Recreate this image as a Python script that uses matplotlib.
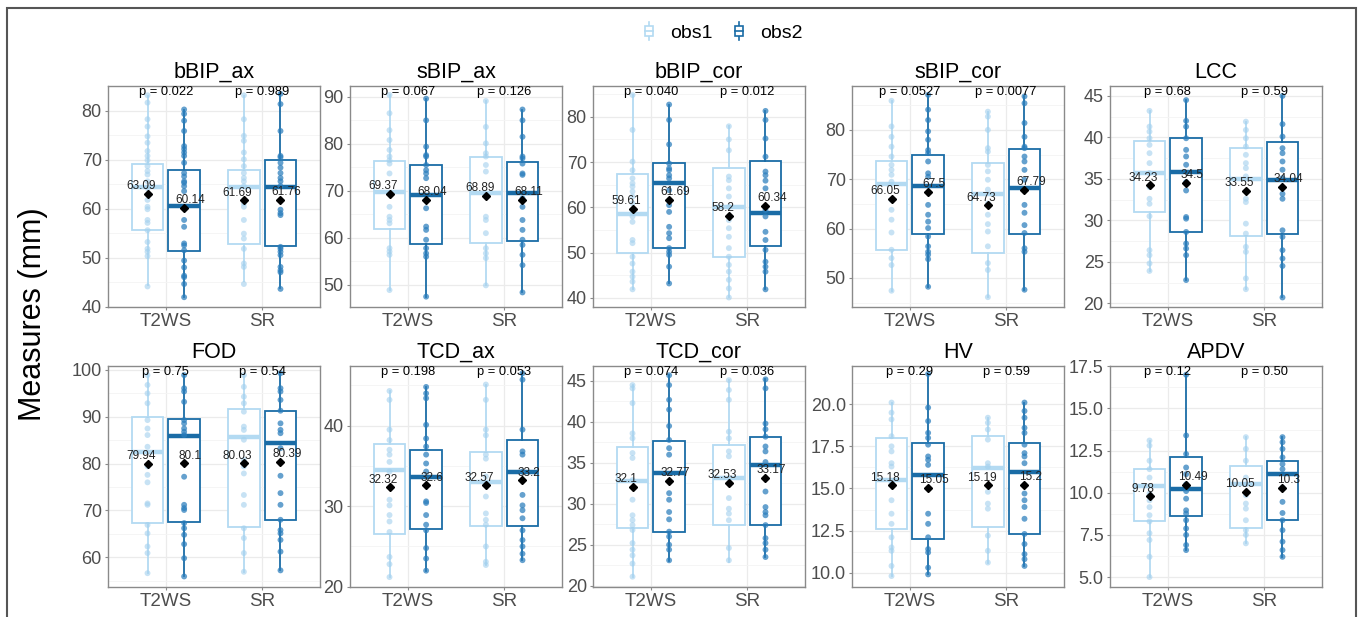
import numpy as np
import matplotlib
matplotlib.use("Agg")
import matplotlib.pyplot as plt
from matplotlib.patches import Rectangle, Patch
from matplotlib.lines import Line2D
from matplotlib.legend_handler import HandlerBase
from matplotlib.ticker import MultipleLocator, FormatStrFormatter
import matplotlib.transforms as mtransforms

plt.rcParams['font.family'] = ['Liberation Sans', 'DejaVu Sans']

# ---------------- data ----------------
panels = ["bBIP_ax", "sBIP_ax", "bBIP_cor", "sBIP_cor", "LCC",
          "FOD", "TCD_ax", "TCD_cor", "HV", "APDV"]
groups = ["T2WS", "SR"]
observers = ["obs1", "obs2"]

# p-values per panel: [T2WS, SR]
p_values = [["0.022", "0.989"], ["0.067", "0.126"], ["0.040", "0.012"],
            ["0.0527", "0.0077"], ["0.68", "0.59"], ["0.75", "0.54"],
            ["0.198", "0.053"], ["0.074", "0.036"], ["0.29", "0.59"],
            ["0.12", "0.50"]]

# box statistics per panel, order: T2WS-obs1, T2WS-obs2, SR-obs1, SR-obs2
q1 = [[55.7, 51.4, 52.7, 52.3], [61.8, 58.7, 59.0, 59.3], [50.0, 51.1, 49.0, 51.5],
      [55.7, 58.9, 55.0, 58.9], [31.0, 28.6, 28.1, 28.4], [67.3, 67.6, 66.4, 68.0],
      [26.6, 27.2, 27.5, 27.5], [27.1, 26.5, 27.4, 27.4], [12.6, 12.0, 12.7, 12.3],
      [8.3, 8.6, 7.9, 8.4]]
medians = [[64.5, 60.5, 64.5, 64.5], [69.8, 69.1, 69.6, 69.5], [58.5, 65.4, 60.1, 58.8],
           [69.0, 68.7, 67.0, 68.3], [35.7, 35.8, 35.0, 34.9], [82.4, 86.0, 85.6, 84.5],
           [34.5, 33.6, 33.0, 34.2], [32.8, 33.8, 33.2, 34.7], [15.5, 15.8, 16.2, 16.0],
           [10.4, 10.2, 10.5, 11.1]]
q3 = [[69.1, 68.0, 68.0, 70.0], [76.4, 75.6, 77.1, 76.1], [67.3, 69.7, 68.75, 70.3],
      [73.6, 74.9, 73.2, 76.1], [39.6, 39.9, 38.7, 39.5], [89.9, 89.5, 91.6, 91.3],
      [37.7, 37.0, 36.7, 38.2], [36.9, 37.7, 37.2, 38.1], [18.0, 17.7, 18.1, 17.7],
      [11.4, 12.1, 11.6, 11.9]]
whisk_lo = [[44.3, 41.9, 45.3, 43.7], [48.9, 47.5, 49.9, 48.4], [41.9, 43.2, 40.1, 41.9],
            [47.4, 48.2, 46.1, 47.6], [23.9, 22.8, 21.7, 20.7], [56.6, 55.9, 56.9, 57.2],
            [21.2, 22.0, 22.7, 23.3], [21.1, 23.0, 22.9, 23.5], [9.8, 9.9, 10.6, 10.4],
            [5.0, 6.6, 7.0, 6.2]]
whisk_hi = [[83.1, 80.2, 83.0, 83.6], [90.3, 89.6, 89.1, 87.3], [84.8, 82.7, 77.9, 81.3],
            [85.9, 87.1, 83.7, 86.8], [43.2, 44.5, 41.9, 45.0], [98.9, 98.9, 98.9, 99.3],
            [44.3, 44.8, 45.1, 46.5], [44.5, 45.7, 45.1, 45.2], [20.1, 21.8, 19.2, 20.1],
            [13.1, 17.0, 13.3, 13.3]]
means = [[63.09, 60.14, 61.69, 61.76], [69.37, 68.04, 68.89, 68.11],
         [59.61, 61.69, 58.2, 60.34], [66.05, 67.5, 64.73, 67.79],
         [34.23, 34.5, 33.55, 34.04], [79.94, 80.1, 80.03, 80.39],
         [32.32, 32.6, 32.57, 33.2], [32.1, 32.77, 32.53, 33.17],
         [15.18, 15.05, 15.19, 15.2], [9.78, 10.49, 10.05, 10.3]]

bBIP_ax_pts = [
    [83.2, 81.7, 78.3, 76.8, 74.8, 73.5, 71.8, 70.8, 69.9, 68.7, 67.7, 67.0, 65.6, 64.2,
     61.8, 60.4, 59.9, 57.7, 57.1, 55.6, 53.2, 51.8, 51.2, 50.3, 44.1],
    [80.3, 79.4, 78.0, 75.9, 72.8, 72.2, 71.5, 70.8, 69.4, 67.3, 66.6, 65.6, 65.3, 64.6,
     63.6, 60.1, 57.7, 56.3, 52.9, 52.5, 51.5, 49.4, 48.0, 46.3, 46.0, 44.6, 41.9],
    [83.2, 78.3, 74.9, 73.9, 71.5, 70.1, 68.7, 67.3, 66.3, 65.6, 64.6, 61.1, 60.4, 57.7,
     54.9, 53.9, 51.8, 48.8, 48.1, 44.6],
    [83.5, 81.4, 75.9, 70.8, 70.5, 69.4, 68.4, 67.3, 66.3, 65.6, 64.6, 59.8, 59.1, 58.7,
     52.2, 51.8, 51.2, 50.5, 48.1, 47.4, 47.0, 43.6]]
sBIP_ax_pts = [
    [90.4, 86.5, 82.9, 80.8, 78.7, 77.3, 76.5, 75.8, 73.7, 69.5, 66.6, 64.5, 63.8, 63.1,
     57.8, 57.1, 56.4, 48.9],
    [89.6, 85.0, 79.4, 77.6, 77.3, 75.5, 74.4, 73.7, 72.7, 66.3, 62.4, 61.7, 59.6, 57.8,
     56.7, 56.0, 47.5],
    [89.1, 83.6, 80.1, 78.0, 77.3, 75.5, 74.1, 69.1, 64.5, 63.8, 61.0, 57.8, 56.7, 55.7, 49.9],
    [87.3, 85.0, 81.5, 77.3, 76.9, 75.8, 73.7, 73.4, 68.4, 66.6, 63.8, 61.7, 59.6, 58.5,
     56.4, 54.2, 48.4]]
bBIP_cor_pts = [
    [84.8, 77.1, 70.1, 68.2, 66.4, 65.3, 64.6, 63.5, 62.4, 60.9, 59.4, 58.0, 56.8, 52.8,
     52.1, 49.1, 47.6, 45.8, 44.7, 43.6, 41.9],
    [82.7, 79.3, 73.9, 69.7, 68.6, 68.2, 67.1, 66.4, 63.8, 60.5, 59.0, 55.7, 54.3, 53.2,
     51.0, 50.2, 49.5, 46.9, 43.2],
    [77.9, 75.0, 72.6, 66.8, 66.0, 64.2, 62.4, 60.1, 57.2, 55.4, 53.5, 51.0, 49.1, 47.3,
     45.8, 44.0, 42.1, 40.1],
    [81.3, 79.3, 75.2, 71.2, 67.9, 67.1, 65.9, 64.2, 59.4, 58.0, 54.6, 52.8, 50.6, 48.0,
     46.9, 45.8, 41.9]]
sBIP_cor_pts = [
    [85.9, 80.7, 78.6, 76.6, 74.6, 72.9, 71.9, 70.9, 69.5, 65.8, 63.8, 61.8, 59.2, 55.7,
     54.0, 52.6, 47.4],
    [87.1, 84.1, 82.0, 79.7, 78.0, 75.9, 75.3, 73.6, 71.2, 70.5, 64.8, 62.8, 61.4, 60.1,
     58.4, 56.4, 55.3, 54.7, 53.8, 48.2],
    [83.7, 82.7, 80.0, 76.3, 75.6, 72.9, 71.6, 69.9, 67.9, 65.1, 62.8, 60.9, 59.4, 56.4,
     53.0, 51.6, 46.1],
    [86.8, 85.4, 81.4, 78.6, 76.6, 76.3, 74.6, 73.6, 71.9, 69.9, 64.8, 63.2, 60.7, 59.1,
     56.0, 55.3, 47.6]]
LCC_pts = [
    [43.2, 41.3, 40.7, 39.9, 39.1, 38.1, 36.9, 35.7, 34.0, 32.6, 32.0, 30.5, 26.4, 25.8,
     24.8, 23.9],
    [44.5, 42.0, 41.3, 39.9, 38.5, 37.7, 36.7, 34.6, 33.6, 30.4, 30.2, 28.6, 27.2, 26.6,
     25.8, 22.8],
    [41.9, 40.9, 39.9, 38.9, 37.9, 36.9, 36.3, 35.3, 32.6, 32.2, 29.6, 28.4, 26.8, 26.2,
     23.0, 21.7],
    [45.0, 41.6, 40.1, 38.7, 38.1, 37.1, 36.1, 35.1, 33.2, 32.6, 28.8, 28.0, 26.4, 25.4,
     24.5, 20.7]]
FOD_pts = [
    [98.9, 96.8, 95.0, 92.9, 89.3, 87.5, 86.1, 83.6, 79.4, 77.6, 76.0, 71.5, 71.2, 66.9,
     65.1, 62.3, 60.9, 56.6],
    [98.9, 96.1, 95.4, 93.2, 89.3, 88.6, 87.5, 86.8, 86.1, 77.2, 71.2, 70.5, 70.1, 67.3,
     66.2, 64.8, 62.8, 59.8, 55.9],
    [98.9, 96.4, 94.3, 92.9, 91.1, 87.9, 87.2, 85.1, 80.8, 79.4, 77.9, 73.3, 71.2, 66.2,
     64.1, 60.9, 56.9],
    [99.3, 96.1, 95.4, 93.6, 91.3, 88.6, 87.2, 86.5, 83.3, 77.4, 73.7, 71.2, 68.0, 65.8,
     65.1, 63.7, 61.2, 57.2]]
TCD_ax_pts = [
    [44.3, 43.2, 39.5, 38.2, 37.0, 36.4, 35.5, 34.3, 30.8, 30.1, 28.9, 28.1, 26.8, 23.7,
     22.8, 21.2],
    [44.8, 44.0, 43.4, 40.1, 38.4, 37.4, 36.4, 35.3, 34.3, 30.6, 30.4, 28.9, 27.7, 27.0,
     24.8, 23.5, 22.0],
    [45.1, 43.2, 39.5, 38.8, 36.4, 35.9, 33.7, 31.2, 29.1, 28.3, 27.7, 25.0, 23.1, 22.7],
    [46.5, 45.7, 39.5, 36.8, 36.4, 34.3, 31.4, 30.1, 29.5, 28.5, 27.0, 25.8, 25.0, 24.1, 23.3]]
TCD_cor_pts = [
    [44.5, 44.1, 42.3, 38.6, 38.0, 36.2, 35.6, 32.9, 30.5, 28.6, 28.0, 27.4, 26.8, 25.2,
     24.4, 23.7, 22.7, 21.1],
    [45.7, 44.5, 42.7, 41.5, 39.5, 37.8, 36.8, 36.0, 31.3, 30.5, 29.0, 28.1, 26.6, 26.0,
     25.0, 24.4, 23.1],
    [45.1, 43.9, 42.7, 38.8, 38.0, 36.4, 35.8, 30.7, 29.4, 28.8, 28.0, 24.6, 23.1],
    [45.2, 44.1, 39.8, 39.1, 38.2, 37.0, 36.4, 35.1, 31.5, 29.6, 29.0, 28.6, 27.4, 25.8,
     25.2, 24.4, 23.5]]
HV_pts = [
    [20.1, 19.5, 19.1, 18.1, 17.5, 17.2, 16.5, 16.3, 15.3, 14.3, 13.5, 12.9, 12.1, 11.5,
     11.3, 10.4, 9.8],
    [21.8, 19.8, 19.0, 18.3, 18.0, 17.6, 16.9, 16.7, 16.4, 13.5, 12.9, 12.1, 11.4, 11.2,
     10.3, 9.9],
    [19.2, 18.9, 18.5, 17.9, 16.5, 16.3, 14.8, 14.1, 13.8, 12.2, 11.3, 10.6],
    [20.1, 19.6, 19.2, 18.6, 18.3, 17.6, 17.1, 16.9, 16.5, 15.2, 14.7, 14.3, 13.9, 13.2,
     12.3, 11.7, 11.1, 10.8, 10.4]]
APDV_pts = [
    [13.1, 12.8, 11.9, 11.4, 10.9, 9.95, 9.55, 9.15, 8.67, 8.3, 7.6, 7.2, 6.2, 5.0],
    [17.0, 13.4, 12.3, 11.5, 11.1, 10.5, 10.1, 9.65, 8.96, 8.77, 8.37, 7.88, 7.5, 6.9, 6.6],
    [13.3, 12.6, 11.9, 10.9, 10.5, 9.85, 9.36, 9.06, 8.37, 7.78, 7.5, 7.0],
    [13.3, 13.0, 12.6, 12.1, 11.7, 11.4, 10.3, 9.46, 8.8, 8.37, 7.78, 7.1, 6.6, 6.2]]

points = [bBIP_ax_pts, sBIP_ax_pts, bBIP_cor_pts, sBIP_cor_pts, LCC_pts,
          FOD_pts, TCD_ax_pts, TCD_cor_pts, HV_pts, APDV_pts]

# ---------------- layout / style ----------------
W, H = 1360, 617
ylims = [(39.9, 85.1), (45.3, 92.3), (38.0, 86.8), (44.1, 88.9), (19.55, 46.2),
         (53.65, 100.85), (19.97, 47.4), (19.84, 46.83), (9.15, 22.27), (4.41, 17.52)]
major_step = [10, 10, 10, 10, 5, 10, 10, 5, 2.5, 2.5]
col_left = [108, 350, 593, 852, 1110]
row_top = [86, 366]
ax_w, ax_h = 212, 221

c_obs = ["#B3DAF2", "#1A6CA6"]
c_pts = ["#A3D0EE", "#2A7DBC"]
a_pts = [0.6, 0.72]
offsets = [-0.19, 0.19]
box_w = 0.33

fig = plt.figure(figsize=(W / 100, H / 100), dpi=100)
fig.patch.set_facecolor("white")

for i, name in enumerate(panels):
    r, c = divmod(i, 5)
    left = col_left[c] / W
    bottom = 1 - (row_top[r] + ax_h) / H
    ax = fig.add_axes([left, bottom, ax_w / W, ax_h / H])
    ax.set_xlim(0.4, 2.6)
    ax.set_ylim(*ylims[i])
    ax.yaxis.set_major_locator(MultipleLocator(major_step[i]))
    ax.yaxis.set_minor_locator(MultipleLocator(major_step[i] / 2))
    if major_step[i] == 2.5:
        ax.yaxis.set_major_formatter(FormatStrFormatter("%.1f"))
    ax.set_xticks([1, 2])
    ax.set_xticklabels(groups)
    ax.grid(True, which="major", color="#EBEBEB", lw=0.9, zorder=0)
    ax.grid(True, which="minor", axis="y", color="#F4F4F4", lw=0.6, zorder=0)
    ax.set_axisbelow(True)
    for s in ax.spines.values():
        s.set_color("#8A8A8A")
        s.set_linewidth(1.0)
    ax.tick_params(axis="y", which="major", labelsize=13, labelcolor="#4D4D4D",
                   color="#8A8A8A", length=2.5, width=0.8, pad=2)
    ax.tick_params(axis="x", which="major", labelsize=13.5, labelcolor="#4D4D4D",
                   color="#8A8A8A", length=2.5, width=0.8, pad=1.5)
    ax.tick_params(axis="both", which="minor", length=0)

    k = 0
    for g in range(2):
        for o in range(2):
            pos = g + 1 + offsets[o]
            stats = [dict(med=medians[i][k], q1=q1[i][k], q3=q3[i][k],
                          whislo=whisk_lo[i][k], whishi=whisk_hi[i][k], label="")]
            ax.bxp(stats, positions=[pos], widths=box_w, showcaps=False,
                   showfliers=False, manage_ticks=False, patch_artist=True,
                   boxprops=dict(facecolor="white", edgecolor=c_obs[o], lw=1.3),
                   whiskerprops=dict(color=c_obs[o], lw=1.3),
                   medianprops=dict(color=c_obs[o], lw=3.2, solid_capstyle="butt"),
                   zorder=2)
            pts = points[i][k]
            ax.scatter(np.full(len(pts), pos), pts, s=18, color=c_pts[o],
                       alpha=a_pts[o], edgecolors="none", zorder=3)
            ax.plot([pos], [means[i][k]], marker="D", ms=4, color="black",
                    ls="none", zorder=4)
            dx = -4.5 if o == 0 else 4.5
            ax.annotate(f"{means[i][k]:g}", (pos, means[i][k]), xytext=(dx, 5.5),
                        textcoords="offset points", ha="center", va="center",
                        fontsize=8.5, color="#222222", zorder=5)
            k += 1

    trans = mtransforms.blended_transform_factory(ax.transData, ax.transAxes)
    for g in range(2):
        ax.text(g + 1, 0.973, f"p = {p_values[i][g]}", transform=trans,
                ha="center", va="center", fontsize=9.3, color="black", zorder=6)

    fig.text((col_left[c] + ax_w / 2) / W, 1 - (row_top[r] - 14) / H, name,
             ha="center", va="center", fontsize=15.5, color="black")

fig.text(33 / W, 1 - 314 / H, "Measures (mm)", rotation=90, ha="center",
         va="center", fontsize=22, color="black")


class BoxHandler(HandlerBase):
    def create_artists(self, legend, orig_handle, xdescent, ydescent, width,
                       height, fontsize, trans):
        col = orig_handle.get_edgecolor()
        cx = -xdescent + width / 2
        bw = width * 0.55
        y0 = -ydescent
        rect = Rectangle((cx - bw / 2, y0 + height * 0.1), bw, height * 0.8,
                         facecolor="white", edgecolor=col, lw=1.2, transform=trans)
        vline = Line2D([cx, cx], [y0 - height * 0.15, y0 + height * 1.15],
                       color=col, lw=1.2, transform=trans)
        hline = Line2D([cx - bw / 2, cx + bw / 2], [y0 + height * 0.5] * 2,
                       color=col, lw=1.2, transform=trans)
        return [vline, rect, hline]


handles = [Patch(edgecolor=c_obs[o], facecolor="white", label=observers[o])
           for o in range(2)]
fig.legend(handles=handles, loc="center", bbox_to_anchor=(722 / W, 1 - 33 / H),
           ncol=2, frameon=False, fontsize=14, handlelength=0.75, handletextpad=0.7,
           columnspacing=1.0, handler_map={Patch: BoxHandler()})

fig.add_artist(Rectangle((7 / W, -0.05), (1356 - 7) / W, 1.05 - 8 / H,
                         transform=fig.transFigure, fill=False,
                         edgecolor="#555555", lw=1.5))

fig.savefig("out.png", dpi=100, facecolor="white")
